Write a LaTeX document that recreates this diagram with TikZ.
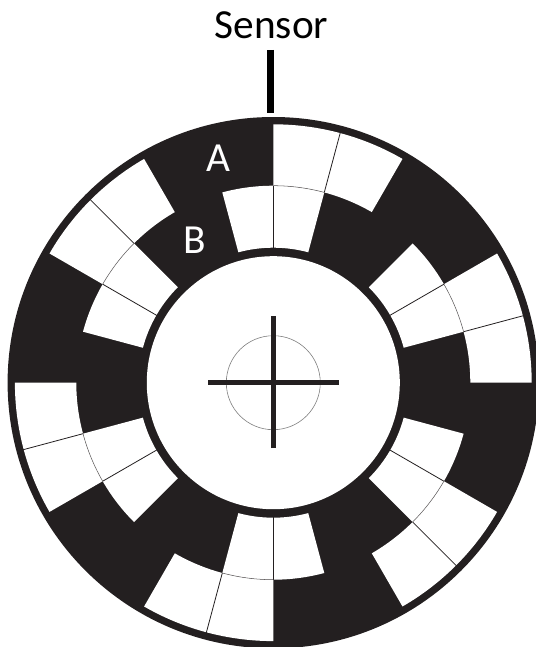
\documentclass[tikz,border=0pt]{standalone}
\usepackage{fontspec}
\setmainfont{Carlito}
\definecolor{diskblack}{HTML}{231F20}
\begin{document}
\begin{tikzpicture}[x=0.75pt, y=0.75pt, font=\fontsize{31}{31}\selectfont,
	slit/.style={fill=white, draw=none},
	divider/.style={draw=diskblack, line width=0.6pt},
	seam/.style={draw=diskblack!70, line width=0.4pt}]
	% --- Cấu hình ---
	\def\rdisk{265.7} \def\rout{258.4} \def\rmid{197} \def\rin{135} \def\rhole{126.5}
	% Khung ảnh
	\useasboundingbox (-273.3,-264.3) rectangle (262.7,382.7);
	% --- Đĩa ---
	\fill[diskblack] (0,0) circle (\rdisk);
	\fill[white] (0,0) circle (\rhole);
	% --- Vòng ngoài A ---
	\foreach \a in {0,60,...,300}
	\fill[slit] ({90-\a}:\rout) arc ({90-\a}:{60-\a}:\rout) -- ({60-\a}:\rmid) arc ({60-\a}:{90-\a}:\rmid) -- cycle;
	% --- Vòng trong B ---
	\foreach \a in {0,60,...,300}
	\fill[slit] ({105-\a}:\rmid) arc ({105-\a}:{75-\a}:\rmid) -- ({75-\a}:\rin) arc ({75-\a}:{105-\a}:\rin) -- cycle;
	% --- Đường chia ---
	\foreach \a in {0,60,...,300} {
		\draw[divider] ({75-\a}:\rmid) -- ({75-\a}:\rdisk-3);
		\draw[divider] ({90-\a}:\rin-4) -- ({90-\a}:\rmid);
		\draw[seam] ({90-\a}:\rmid) arc ({90-\a}:{75-\a}:\rmid);
	}
	% --- Tâm ---
	\draw[gray, line width=0.45pt] (0,0) circle (47);
	\draw[diskblack, line width=3.5pt] (-65,0) -- (66,0) (0,-65.5) -- (0,66.5);
	% --- Cảm biến ---
	\coordinate (bartop) at (-2.8,332.7);
	\coordinate (barend) at (-2.8,270);
	\draw[black, line width=5.7pt] (bartop) -- (barend);
	\node (sensor) at (-1.8,357.5) {Sensor};
	\node[white] (labelA) at (-55.3,224.7) {A};
	\node[white] (labelB) at (-78.3,142.2) {B};
\end{tikzpicture}
\end{document}
